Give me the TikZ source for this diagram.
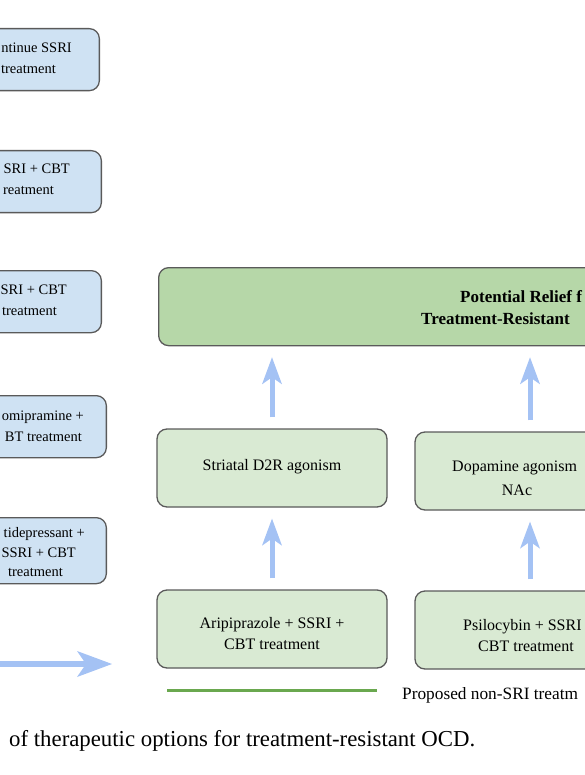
\documentclass[tikz,border=0pt]{standalone}
\usepackage{fontspec}
\setmainfont{Liberation Serif}
\usepackage{xcolor}
\usetikzlibrary{arrows.meta}

\definecolor{boxgray}{HTML}{5A5A5A}
\definecolor{bluefill}{HTML}{CFE2F3}
\definecolor{reliefgreen}{HTML}{B6D7A8}
\definecolor{palegreen}{HTML}{D9EAD3}
\definecolor{arrowblue}{HTML}{A4C2F4}
\definecolor{legendgreen}{HTML}{6AA84F}

\newcommand{\boxfont}{\fontsize{16}{21}\selectfont}
\newcommand{\sidefont}{\fontsize{14.5}{21}\selectfont}
\newcommand{\titlefont}{\fontsize{17}{23}\selectfont\bfseries}

\tikzset{
  box/.style={draw=boxgray, line width=1.3pt, rounded corners=10pt, inner sep=0pt},
  bluebox/.style={box, fill=bluefill, anchor=north east, minimum width=220pt, minimum height=62pt},
  greenbox/.style={box, fill=palegreen, minimum width=230pt, minimum height=78pt},
  txt/.style={font=\boxfont, inner sep=0pt},
  sidetxt/.style={font=\sidefont, inner sep=0pt, anchor=mid east},
  uparrow/.style={draw=arrowblue, line width=5pt, shorten <=11pt, shorten >=11pt,
    -{Stealth[length=27pt, width=20pt, inset=7pt, line width=0pt]}},
}

\begin{document}
\begin{tikzpicture}[x=1pt, y=-1pt]
\useasboundingbox (0,0) rectangle (585,775);
\clip (0,0) rectangle (585,775);
% standard options, cut at the left edge
\node[bluebox] (cont) at (100,28) {};
\node[sidetxt] (contA) at (72,50) {ntinue SSRI};
\node[sidetxt] (contB) at (56,71) {treatment};
\node[bluebox] (ssricbt) at (102,150) {};
\node[sidetxt] (ssricbtA) at (70,171) {SRI + CBT};
\node[sidetxt] (ssricbtB) at (54,192) {reatment};
\node[bluebox] (ssricbttwo) at (102,270) {};
\node[sidetxt] (ssricbttwoA) at (67,292) {SRI + CBT};
\node[sidetxt] (ssricbttwoB) at (57,313) {treatment};
\node[bluebox] (clomi) at (107,395) {};
\node[sidetxt] (clomiA) at (84,418) {omipramine +};
\node[sidetxt] (clomiB) at (82,439) {BT treatment};
\node[bluebox, minimum height=66pt] (antidep) at (107,517) {};
\node[sidetxt] (antidepA) at (85,535) {tidepressant +};
\node[sidetxt] (antidepB) at (76,555) {SSRI + CBT};
\node[sidetxt] (antidepC) at (63,574) {treatment};
% arrow towards the proposed options
\coordinate (arrowstart) at (0,664);
\coordinate (arrowend) at (112,664);
\draw[draw=arrowblue, line width=6pt, -{Stealth[length=35pt, width=26pt, inset=9pt, line width=0pt]}] (arrowstart) -- (arrowend);
% proposed non-SRI options
\node[box, fill=reliefgreen, anchor=north west, minimum width=480pt, minimum height=78pt] (relief) at (158,267) {};
\node[txt, font=\titlefont, anchor=mid west] (reliefA) at (460,300) {Potential Relief f};
\node[txt, font=\titlefont, anchor=mid west] (reliefB) at (421,322) {Treatment-Resistant};
\node[greenbox] (striatal) at (272,468) {};
\node[txt] (striatalA) at (272,467) {Striatal D2R agonism};
\node[greenbox] (dopa) at (530,471) {};
\node[txt, anchor=mid west] (dopaA) at (452,469) {Dopamine agonism};
\node[txt] (dopaB) at (517,490) {NAc};
\node[greenbox] (arip) at (272,629) {};
\node[txt, align=center] (aripA) at (272,634) {Aripiprazole + SSRI +\\CBT treatment};
\node[greenbox] (psilo) at (530,630) {};
\node[txt, anchor=mid west] (psiloA) at (463,628) {Psilocybin + SSRI};
\node[txt, anchor=mid west] (psiloB) at (478,649) {CBT treatment};
\draw[uparrow] (arip.north) -- (striatal.south);
\draw[uparrow] (striatal.north) -- (striatal.north |- relief.south);
\draw[uparrow] (psilo.north) -- (dopa.south);
\draw[uparrow] (dopa.north) -- (dopa.north |- relief.south);
% legend
\coordinate (legstart) at (167,690);
\coordinate (legend) at (377,690);
\draw[legendgreen, line width=3pt] (legstart) -- (legend);
\node[txt, font=\fontsize{17.3}{21}\selectfont, anchor=mid west] (legtxt) at (402,697) {Proposed non-SRI treatm};
% caption
\node[inner sep=0pt, anchor=mid west, font=\fontsize{22.8}{26}\selectfont] (caption) at (9,744) {of therapeutic options for treatment-resistant OCD.};
\end{tikzpicture}
\end{document}
